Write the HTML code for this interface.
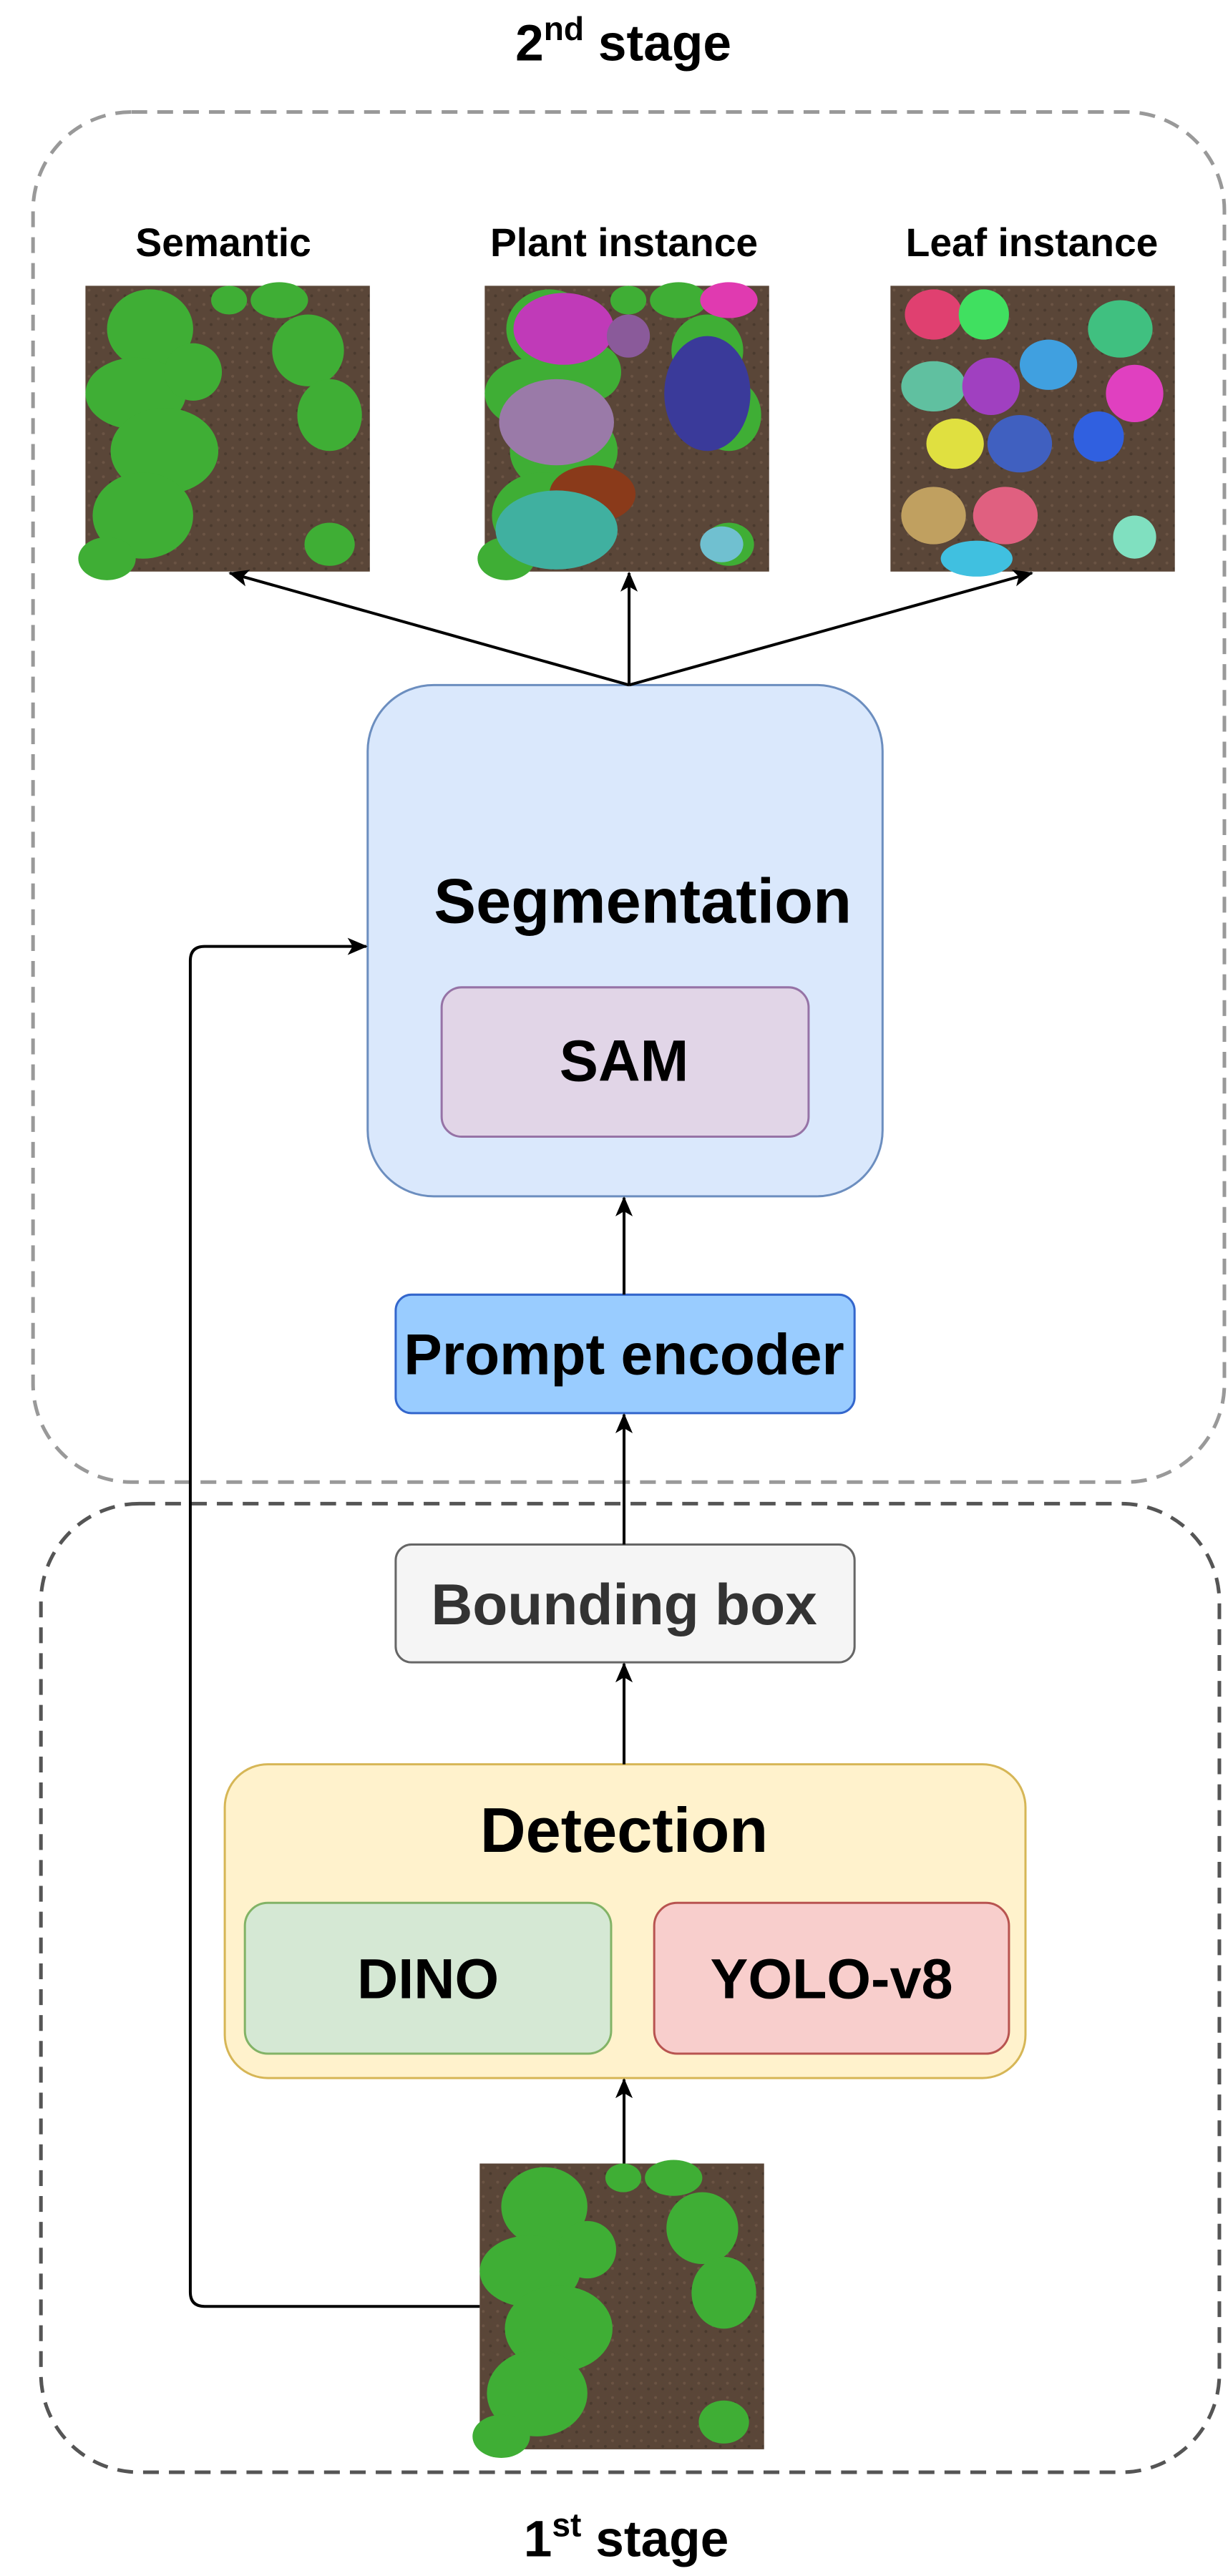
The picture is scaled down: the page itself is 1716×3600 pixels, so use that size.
<!DOCTYPE html>
<html><head><meta charset="utf-8"><style>
html,body{margin:0;padding:0;background:#fff;}
svg{display:block;}
text{font-family:"Liberation Sans",Arial,sans-serif;font-weight:bold;fill:#000;}
</style></head><body>
<svg width="1716" height="3600" viewBox="0 0 1716 3600" xmlns="http://www.w3.org/2000/svg">
<defs>
<marker id="ah2" markerWidth="30" markerHeight="30" refX="26" refY="12" orient="auto" markerUnits="userSpaceOnUse">
<path d="M0,0 L28,12 L0,24 L7,12 Z" fill="#000"/></marker>
<pattern id="soil" width="20" height="20" patternUnits="userSpaceOnUse">
<rect width="20" height="20" fill="#5a4638"/><circle cx="5" cy="6" r="2" fill="#6b5444"/><circle cx="15" cy="14" r="2" fill="#4a3a2e"/></pattern>
<g id="plants">
<rect width="396" height="398" fill="url(#soil)"/>
<g fill="#3fae35">
<ellipse cx="90" cy="60" rx="60" ry="55"/><ellipse cx="70" cy="150" rx="70" ry="50"/><ellipse cx="110" cy="230" rx="75" ry="60"/>
<ellipse cx="80" cy="320" rx="70" ry="60"/><ellipse cx="150" cy="120" rx="40" ry="40"/><ellipse cx="30" cy="380" rx="40" ry="30"/>
<ellipse cx="310" cy="90" rx="50" ry="50"/><ellipse cx="340" cy="180" rx="45" ry="50"/><ellipse cx="270" cy="20" rx="40" ry="25"/>
<ellipse cx="340" cy="360" rx="35" ry="30"/><ellipse cx="200" cy="20" rx="25" ry="20"/>
</g></g>
</defs>
<g transform="scale(1.0035)">
<!-- stage boxes -->
<rect x="46" y="156" width="1659" height="1908" rx="137" fill="none" stroke="#999" stroke-width="5" stroke-dasharray="22,14"/>
<rect x="57" y="2094" width="1641" height="1349" rx="137" fill="none" stroke="#555" stroke-width="5" stroke-dasharray="22,14"/>
<text x="868" y="84" font-size="71" text-anchor="middle">2<tspan font-size="46" dy="-28">nd</tspan><tspan dy="28"> stage</tspan></text>
<text x="872" y="3560" font-size="71" text-anchor="middle">1<tspan font-size="46" dy="-28">st</tspan><tspan dy="28"> stage</tspan></text>

<!-- labels -->
<text x="311" y="357" font-size="55" text-anchor="middle">Semantic</text>
<text x="869" y="357" font-size="55" text-anchor="middle">Plant instance</text>
<text x="1437" y="357" font-size="55" text-anchor="middle">Leaf instance</text>

<!-- images -->
<use href="#plants" x="119" y="398"/>
<g transform="translate(675,398)"><use href="#plants"/>
<ellipse cx="110" cy="60" rx="70" ry="50" fill="#c03ab8"/><ellipse cx="100" cy="190" rx="80" ry="60" fill="#9a7aa8"/>
<ellipse cx="310" cy="150" rx="60" ry="80" fill="#3a3a9a"/><ellipse cx="200" cy="70" rx="30" ry="30" fill="#8a5a9a"/>
<ellipse cx="150" cy="290" rx="60" ry="40" fill="#8a3a1a"/><ellipse cx="100" cy="340" rx="85" ry="55" fill="#40b0a0"/>
<ellipse cx="340" cy="20" rx="40" ry="25" fill="#e03ab0"/><ellipse cx="330" cy="360" rx="30" ry="25" fill="#70c0d0"/></g>
<g transform="translate(1240,398)"><rect width="396" height="398" fill="url(#soil)"/>
<ellipse cx="60" cy="40" rx="40" ry="35" fill="#e04070"/><ellipse cx="130" cy="40" rx="35" ry="35" fill="#40e060"/>
<ellipse cx="60" cy="140" rx="45" ry="35" fill="#60c0a0"/><ellipse cx="140" cy="140" rx="40" ry="40" fill="#a040c0"/>
<ellipse cx="220" cy="110" rx="40" ry="35" fill="#40a0e0"/><ellipse cx="90" cy="220" rx="40" ry="35" fill="#e0e040"/>
<ellipse cx="180" cy="220" rx="45" ry="40" fill="#4060c0"/><ellipse cx="60" cy="320" rx="45" ry="40" fill="#c0a060"/>
<ellipse cx="160" cy="320" rx="45" ry="40" fill="#e06080"/><ellipse cx="120" cy="380" rx="50" ry="25" fill="#40c0e0"/>
<ellipse cx="320" cy="60" rx="45" ry="40" fill="#40c080"/><ellipse cx="340" cy="150" rx="40" ry="40" fill="#e040c0"/>
<ellipse cx="290" cy="210" rx="35" ry="35" fill="#3060e0"/><ellipse cx="340" cy="350" rx="30" ry="30" fill="#80e0c0"/></g>
<use href="#plants" x="668" y="3013"/>

<!-- boxes -->
<rect x="512" y="954" width="717" height="712" rx="92" fill="#dae8fc" stroke="#6c8ebf" stroke-width="3"/>
<text x="895" y="1285" font-size="88" text-anchor="middle">Segmentation</text>
<rect x="615" y="1375" width="511" height="208" rx="28" fill="#e1d5e7" stroke="#9673a6" stroke-width="3"/>
<text x="869" y="1505" font-size="81" text-anchor="middle">SAM</text>
<rect x="551" y="1803" width="639" height="165" rx="22" fill="#99ccff" stroke="#36c" stroke-width="3"/>
<text x="869" y="1914" font-size="80" text-anchor="middle">Prompt encoder</text>
<rect x="551" y="2151" width="639" height="164" rx="22" fill="#f5f5f5" stroke="#666" stroke-width="3"/>
<text x="869" y="2262" font-size="80" text-anchor="middle" style="fill:#333">Bounding box</text>
<rect x="313" y="2457" width="1115" height="437" rx="60" fill="#fff2cc" stroke="#d6b656" stroke-width="3"/>
<text x="869" y="2579" font-size="88" text-anchor="middle">Detection</text>
<rect x="341" y="2650" width="510" height="210" rx="32" fill="#d5e8d4" stroke="#82b366" stroke-width="3"/>
<text x="596" y="2783" font-size="79" text-anchor="middle">DINO</text>
<rect x="911" y="2650" width="494" height="210" rx="32" fill="#f8cecc" stroke="#b85450" stroke-width="3"/>
<text x="1158" y="2783" font-size="79" text-anchor="middle">YOLO-v8</text>

<!-- arrows -->
<g stroke="#000" stroke-width="4" fill="none">
<line x1="876" y1="954" x2="320" y2="798" marker-end="url(#ah2)"/>
<line x1="876" y1="954" x2="876" y2="798" marker-end="url(#ah2)"/>
<line x1="876" y1="954" x2="1437" y2="798" marker-end="url(#ah2)"/>
<line x1="869" y1="1803" x2="869" y2="1668" marker-end="url(#ah2)"/>
<line x1="869" y1="2151" x2="869" y2="1970" marker-end="url(#ah2)"/>
<line x1="869" y1="2457" x2="869" y2="2317" marker-end="url(#ah2)"/>
<line x1="869" y1="3013" x2="869" y2="2896" marker-end="url(#ah2)"/>
<path d="M668,3212 L285,3212 Q265,3212 265,3192 L265,1338 Q265,1318 285,1318 L510,1318" marker-end="url(#ah2)"/>
</g>
</g>
</svg>
</body></html>
